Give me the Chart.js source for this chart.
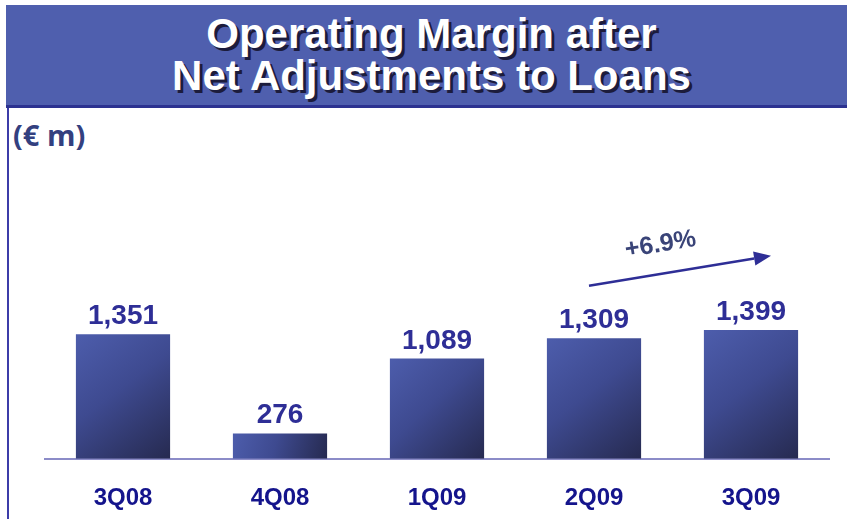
<!DOCTYPE html>
<html>
<head>
<meta charset="utf-8">
<script src="https://cdn.jsdelivr.net/npm/chart.js@4.4.1/dist/chart.umd.min.js"></script>
<style>
body { margin: 0; width: 847px; height: 519px; overflow: hidden; background: #fff; position: relative; }
#head { position: absolute; left: 6px; top: 5px; width: 841px; height: 100px; background: #4f5fae; border-bottom: 3px solid #2c3290; }
#head h1 { margin: 0; padding: 8px 0 0 10px; text-align: center; color: #fff;
  font: bold 42px/42px "Liberation Sans", Arial, sans-serif; text-shadow: 3px 3px 0 #1c1c3c; }
#side { position: absolute; left: 7px; top: 108px; width: 2px; height: 411px; background: #3c3ca8; }
#unit { position: absolute; left: 13px; top: 120px; font: bold 29px/29px "Open Sans", sans-serif; color: #33407f; }
#wrap { position: absolute; left: 0; top: 0; width: 847px; height: 545px; }
</style>
</head>
<body>
<div id="head"><h1>Operating Margin after<br>Net Adjustments to Loans</h1></div>
<div id="side"></div>
<div id="unit">(€ m)</div>
<div id="wrap"><canvas id="chart"></canvas></div>
<script>
const quarters = ['3Q08', '4Q08', '1Q09', '2Q09', '3Q09'];
const margin = [1351, 276, 1089, 1309, 1399];
const growthLabel = '+6.9%';
const yMax = 3000;

// blue bar fading to navy towards the lower right
function barFill(c) {
    const chart = c.chart;
    const area = chart.chartArea;
    if (!area || c.type !== 'data') return '#3f4c96';
    const xs = chart.scales.x, ys = chart.scales.y;
    const cx = xs.getPixelForValue(c.dataIndex);
    const half = xs.width / quarters.length * 0.6 / 2;
    const top = ys.getPixelForValue(c.raw);
    const bot = ys.getPixelForValue(0);
    const g = chart.ctx.createLinearGradient(cx - half, top, cx + half, bot);
    g.addColorStop(0, '#4d5dac');
    g.addColorStop(0.45, '#3e4a90');
    g.addColorStop(1, '#262a50');
    return g;
}

const extras = {
    id: 'extras',
    afterDatasetsDraw(chart) {
        const ctx = chart.ctx;
        const xs = chart.scales.x, ys = chart.scales.y;
        const meta = chart.getDatasetMeta(0);
        ctx.save();
        ctx.font = 'bold 28px "Liberation Sans", Arial, sans-serif';
        ctx.fillStyle = '#2e2e96';
        ctx.textAlign = 'center';
        ctx.textBaseline = 'alphabetic';
        meta.data.forEach((bar, i) => {
            ctx.fillText(margin[i].toLocaleString('en-US'), bar.x, bar.y - 10);
        });

        // growth arrow 2Q09 -> 3Q09
        const x1 = xs.getPixelForValue(3) - 5, y1 = ys.getPixelForValue(1880);
        const x2 = xs.getPixelForValue(4) + 20, y2 = ys.getPixelForValue(2205);
        const ang = Math.atan2(y2 - y1, x2 - x1);
        const head = 17, hw = 7;
        const bx = x2 - head * Math.cos(ang), by = y2 - head * Math.sin(ang);
        ctx.strokeStyle = '#2e2e96';
        ctx.lineWidth = 2.5;
        ctx.beginPath();
        ctx.moveTo(x1, y1);
        ctx.lineTo(bx, by);
        ctx.stroke();
        ctx.beginPath();
        ctx.moveTo(x2, y2);
        ctx.lineTo(bx + hw * Math.sin(ang), by - hw * Math.cos(ang));
        ctx.lineTo(bx - hw * Math.sin(ang), by + hw * Math.cos(ang));
        ctx.closePath();
        ctx.fill();

        const lx = (xs.getPixelForValue(3) + xs.getPixelForValue(4)) / 2 - 12;
        const ly = ys.getPixelForValue(2324);
        ctx.translate(lx, ly);
        ctx.rotate(ang);
        ctx.font = 'bold 25px "Liberation Sans", Arial, sans-serif';
        ctx.fillStyle = '#3a4478';
        ctx.textBaseline = 'middle';
        ctx.fillText(growthLabel, 0, 0);
        ctx.restore();
    }
};

new Chart(document.getElementById('chart'), {
    type: 'bar',
    data: {
        labels: quarters,
        datasets: [{
            data: margin,
            backgroundColor: barFill,
            borderWidth: 0,
            barPercentage: 0.6,
            categoryPercentage: 1
        }]
    },
    options: {
        responsive: true,
        maintainAspectRatio: false,
        animation: false,
        events: [],
        layout: { padding: { left: 44.5, right: 17.5, top: 182.5, bottom: 7.4 } },
        plugins: { legend: { display: false }, tooltip: { enabled: false } },
        scales: {
            x: {
                grid: { display: false, drawTicks: false },
                border: { display: true, color: '#8c8cc8', width: 2 },
                ticks: {
                    padding: 25,
                    color: '#14148c',
                    font: { family: '"Liberation Sans", Arial, sans-serif', size: 24, weight: 'bold', lineHeight: 1.2 }
                }
            },
            y: { display: false, min: 0, max: yMax }
        }
    },
    plugins: [extras]
});
</script>
</body>
</html>
